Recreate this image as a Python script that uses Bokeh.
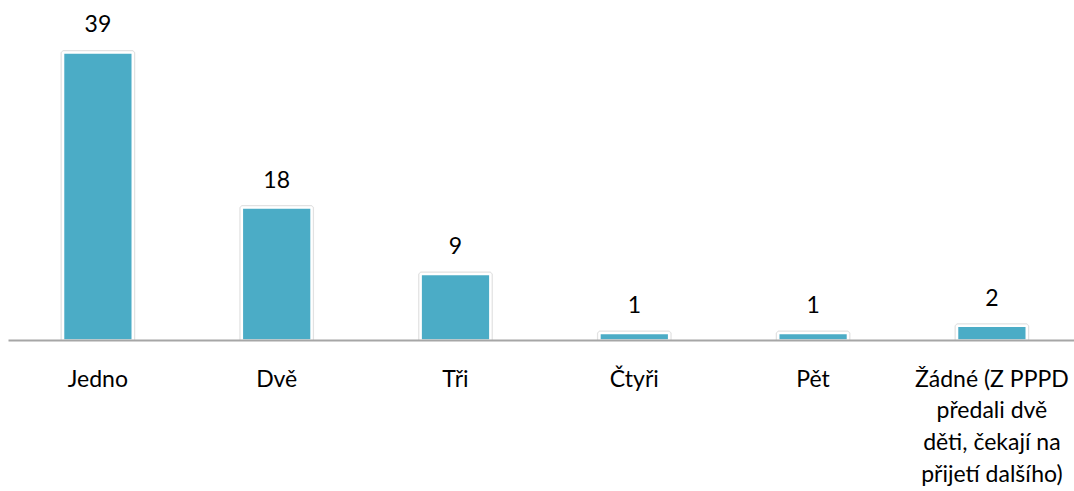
from bokeh.plotting import figure
from bokeh.models import ColumnDataSource, Range1d, FixedTicker, LabelSet
from bokeh.core.properties import value
from bokeh.embed import file_html
from bokeh.resources import INLINE

categories = ["Jedno", "Dvě", "Tři", "Čtyři", "Pět",
              "Žádné (Z PPPD\npředali dvě\nděti, čekají na\npřijetí dalšího)"]
values = [39, 18, 9, 1, 1, 2]

xs = [i + 0.5 for i in range(len(categories))]
src = ColumnDataSource(dict(x=xs, top=values, label=[str(v) for v in values]))

FONT = "Lato"

p = figure(width=1074, height=491, output_backend="svg", toolbar_location=None,
           x_range=Range1d(0, 5.962), y_range=Range1d(0, 46.04),
           min_border_left=8, min_border_right=0, min_border_top=0,
           min_border_bottom=151)
p.outline_line_color = None
p.xgrid.visible = False
p.ygrid.visible = False
p.yaxis.visible = False

p.vbar(x="x", top="top", width=0.39, bottom=0, source=src,
       fill_color=None, line_color="#e2e2e2", line_width=5)
p.vbar(x="x", top="top", width=0.39, bottom=0, source=src,
       fill_color="#4BACC6", line_color="white", line_width=2.5)

labels = LabelSet(x="x", y="top", text="label", source=src, text_align="center",
                  text_baseline="alphabetic", y_offset=20, text_font=value(FONT),
                  text_font_size="23px", text_color="#000000")
p.add_layout(labels)

ax = p.xaxis[0]
ax.ticker = FixedTicker(ticks=xs)
ax.major_label_overrides = {x: c for x, c in zip(xs, categories)}
ax.major_tick_line_color = None
ax.minor_tick_line_color = None
ax.axis_line_color = "#a6a6a6"
ax.axis_line_width = 2
ax.major_label_standoff = 17
ax.major_label_text_font = FONT
ax.major_label_text_font_size = "23px"
ax.major_label_text_color = "#000000"
ax.major_label_text_line_height = 1.14

open("out.html", "w").write(file_html(p, INLINE))
